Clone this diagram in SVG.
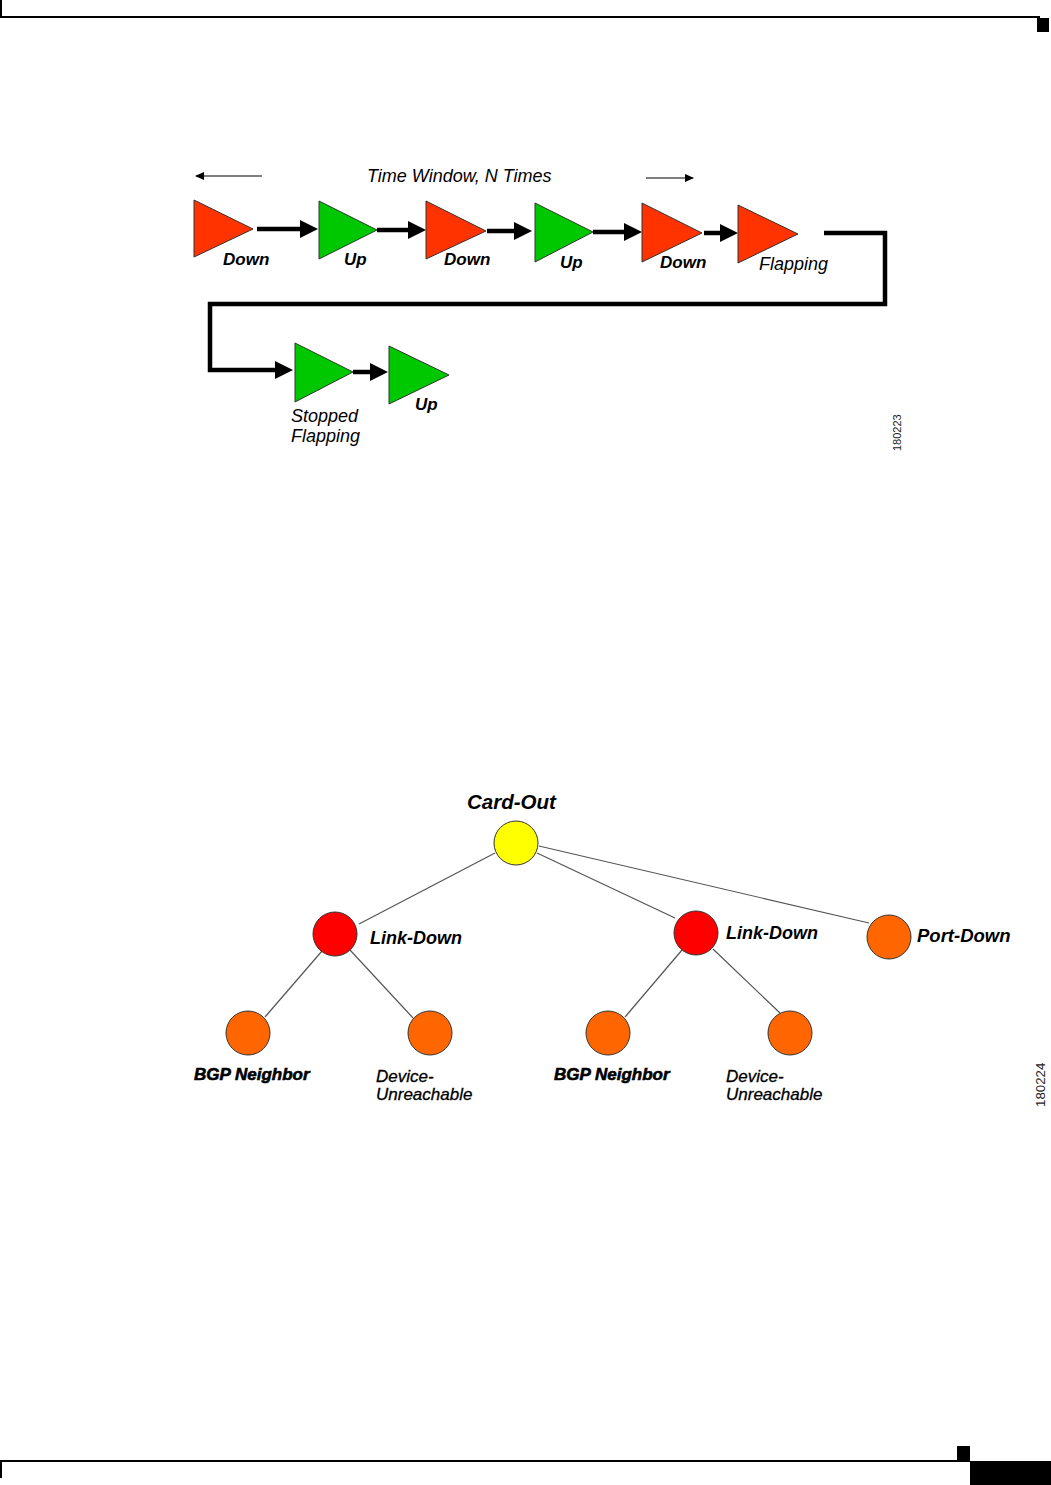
<svg xmlns="http://www.w3.org/2000/svg" width="1051" height="1485" viewBox="0 0 1051 1485">
<style>
.tri{stroke:#333;stroke-width:1}
.red{fill:#FF3300}
.grn{fill:#00C800}
.flow{fill:none;stroke:#000;stroke-width:4.5;stroke-linejoin:miter}
.thin{fill:none;stroke:#000;stroke-width:1.2}
.lbl{font-family:"Liberation Sans",Arial,sans-serif;font-style:italic;font-weight:bold;font-size:17px;fill:#000}
.lblr{font-family:"Liberation Sans",Arial,sans-serif;font-style:italic;font-size:18px;fill:#000}
.tl{font-family:"Liberation Sans",Arial,sans-serif;font-style:italic;font-weight:bold;fill:#000}
.tlr{font-family:"Liberation Sans",Arial,sans-serif;font-style:italic;font-size:17px;fill:#000;stroke:#000;stroke-width:0.3}
.num{font-family:"Liberation Sans",Arial,sans-serif;fill:#222}
.edge{stroke:#555;stroke-width:1.2}
.node{stroke:#333;stroke-width:1}
</style>
<defs>
<marker id="ah" viewBox="0 0 18 18" refX="10" refY="9" markerWidth="18" markerHeight="18" markerUnits="userSpaceOnUse" orient="auto">
<path d="M0,0 L18,9 L0,18 z" fill="#000"/>
</marker>
<marker id="sah" viewBox="0 0 9 8" refX="8" refY="4" markerWidth="9" markerHeight="8" markerUnits="userSpaceOnUse" orient="auto">
<path d="M0,0 L9,4 L0,8 z" fill="#000"/>
</marker>
</defs>

<g id="page-frame">
<rect x="0" y="0" width="2" height="17" fill="#000"/>
<rect x="0" y="16" width="1040" height="2" fill="#000"/>
<rect x="1037" y="18" width="12" height="14" fill="#000"/>
<rect x="0" y="1460" width="970" height="2" fill="#000"/>
<rect x="0" y="1461" width="2" height="17" fill="#000"/>
<rect x="957" y="1446" width="13" height="15" fill="#000"/>
<rect x="970" y="1461" width="81" height="24" fill="#000"/>
</g>

<g id="connectors">
<line class="thin" x1="262" y1="176" x2="196" y2="176" marker-end="url(#sah)"/>
<line class="thin" x1="646" y1="178" x2="693" y2="178" marker-end="url(#sah)"/>
<line class="flow" x1="257" y1="229" x2="310" y2="229" marker-end="url(#ah)"/>
<line class="flow" x1="377" y1="230" x2="418" y2="230" marker-end="url(#ah)"/>
<line class="flow" x1="487" y1="231" x2="524" y2="231" marker-end="url(#ah)"/>
<line class="flow" x1="593" y1="232" x2="634" y2="232" marker-end="url(#ah)"/>
<line class="flow" x1="704" y1="233" x2="730" y2="233" marker-end="url(#ah)"/>
<path class="flow" d="M824,233 H885 V304 H210 V370 H285" marker-end="url(#ah)"/>
<line class="flow" x1="353" y1="372" x2="380" y2="372" marker-end="url(#ah)"/>

<line class="edge" x1="495" y1="853" x2="359" y2="924"/>
<line class="edge" x1="537" y1="853" x2="675" y2="918"/>
<line class="edge" x1="539" y1="846" x2="869" y2="923"/>
<line class="edge" x1="322" y1="951" x2="265" y2="1017"/>
<line class="edge" x1="350" y1="950" x2="413" y2="1018"/>
<line class="edge" x1="682" y1="950" x2="625" y2="1017"/>
<line class="edge" x1="713" y1="949" x2="780" y2="1013"/>
</g>

<text class="lblr" x="367" y="182">Time Window, N Times</text>

<g id="t-down1">
<polygon class="tri red" points="194,200 194,257 253,229"/>
<text class="lbl" x="223" y="265">Down</text>
</g>
<g id="t-up1">
<polygon class="tri grn" points="319,201 319,259 377,230"/>
<text class="lbl" x="344" y="265">Up</text>
</g>
<g id="t-down2">
<polygon class="tri red" points="426,201 426,259 486,231"/>
<text class="lbl" x="444" y="265">Down</text>
</g>
<g id="t-up2">
<polygon class="tri grn" points="535,203 535,262 593,232"/>
<text class="lbl" x="560" y="268">Up</text>
</g>
<g id="t-down3">
<polygon class="tri red" points="642,203 642,262 702,233"/>
<text class="lbl" x="660" y="268">Down</text>
</g>
<g id="t-flapping">
<polygon class="tri red" points="738,205 738,263 798,234"/>
<text class="lblr" x="759" y="270">Flapping</text>
</g>
<g id="t-stopped">
<polygon class="tri grn" points="295,343 295,402 353,372"/>
<text class="lblr" x="291" y="422">Stopped</text>
<text class="lblr" x="291" y="442">Flapping</text>
</g>
<g id="t-up3">
<polygon class="tri grn" points="389,346 389,404 449,375"/>
<text class="lbl" x="415" y="410">Up</text>
</g>
<text class="num" style="font-size:11px" transform="translate(901,451) rotate(-90)">180223</text>

<g id="n-cardout">
<circle class="node" cx="516" cy="843" r="22" fill="#FFFF00"/>
<text class="tl" x="467" y="809" font-size="20.5">Card-Out</text>
</g>
<g id="n-linkdown1">
<circle class="node" cx="335" cy="934" r="22" fill="#FF0000"/>
<text class="tl" x="370" y="944" font-size="18">Link-Down</text>
</g>
<g id="n-linkdown2">
<circle class="node" cx="696" cy="933" r="22" fill="#FF0000"/>
<text class="tl" x="726" y="939" font-size="18">Link-Down</text>
</g>
<g id="n-portdown">
<circle class="node" cx="889" cy="937" r="22" fill="#FF6600"/>
<text class="tl" x="917" y="942" font-size="18.5">Port-Down</text>
</g>
<g id="n-bgp1">
<circle class="node" cx="248" cy="1033" r="22" fill="#FF6600"/>
<text class="tl" x="194" y="1080" font-size="17" stroke="#000" stroke-width="0.6">BGP Neighbor</text>
</g>
<g id="n-dev1">
<circle class="node" cx="430" cy="1033" r="22" fill="#FF6600"/>
<text class="tlr" x="376" y="1082">Device-</text>
<text class="tlr" x="376" y="1100">Unreachable</text>
</g>
<g id="n-bgp2">
<circle class="node" cx="608" cy="1033" r="22" fill="#FF6600"/>
<text class="tl" x="554" y="1080" font-size="17" stroke="#000" stroke-width="0.6">BGP Neighbor</text>
</g>
<g id="n-dev2">
<circle class="node" cx="790" cy="1033" r="22" fill="#FF6600"/>
<text class="tlr" x="726" y="1082">Device-</text>
<text class="tlr" x="726" y="1100">Unreachable</text>
</g>
<text class="num" style="font-size:13.3px" transform="translate(1045,1107) rotate(-90)">180224</text>
</svg>
